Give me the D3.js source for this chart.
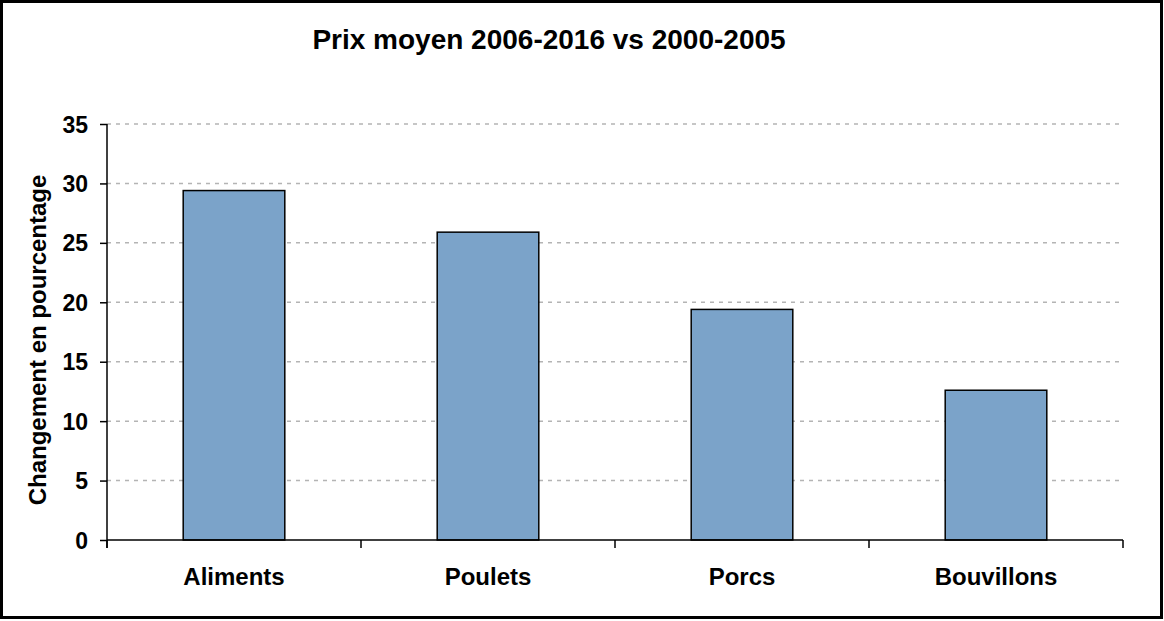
<!DOCTYPE html>
<html>
<head>
<meta charset="utf-8">
<script src="https://cdn.jsdelivr.net/npm/d3@7"></script>
<style>
  body { margin: 0; background: #fff; }
  text { font-family: "Liberation Sans", Arial, sans-serif; font-weight: bold; fill: #000; }
</style>
</head>
<body>
<svg id="chart"></svg>
<script>
// data
var categories = ['Aliments', 'Poulets', 'Porcs', 'Bouvillons'];
var values = [29.4, 25.9, 19.4, 12.6];
var yTicks = [0, 5, 10, 15, 20, 25, 30, 35];

var svgWidth = 1164;
var svgHeight = 621;
var plotLeft = 107, plotRight = 1123, plotTop = 124, plotBottom = 540;

var svg = d3.select('#chart')
    .attr('width', svgWidth)
    .attr('height', svgHeight);

// outer frame
svg.append('rect')
    .attr('x', 1.5).attr('y', 1.5)
    .attr('width', 1160).attr('height', 616)
    .attr('fill', 'none')
    .attr('stroke', '#000')
    .attr('stroke-width', 3);

var x = d3.scaleBand()
    .domain(categories)
    .range([plotLeft, plotRight])
    .paddingInner(0.6)
    .paddingOuter(0.3);

var y = d3.scaleLinear()
    .domain([0, 35])
    .range([plotBottom, plotTop]);

// dotted gridlines
svg.append('g').selectAll('line')
    .data(yTicks.filter(function(d) { return d > 0; }))
    .enter().append('line')
    .attr('x1', plotLeft).attr('x2', plotRight)
    .attr('y1', function(d) { return y(d); })
    .attr('y2', function(d) { return y(d); })
    .attr('stroke', '#b4b4b4')
    .attr('stroke-width', 1.5)
    .attr('stroke-dasharray', '4,5');

// bars
svg.append('g').selectAll('rect')
    .data(values)
    .enter().append('rect')
    .attr('x', function(d, i) { return x(categories[i]); })
    .attr('y', function(d) { return y(d); })
    .attr('width', x.bandwidth())
    .attr('height', function(d) { return y(0) - y(d); })
    .attr('fill', '#7ba3c9')
    .attr('stroke', '#000')
    .attr('stroke-width', 1.5);

// y axis
var yAxis = svg.append('g')
    .attr('transform', 'translate(' + plotLeft + ',0)')
    .call(d3.axisLeft(y).tickValues(yTicks).tickSize(7).tickPadding(12));
yAxis.select('.domain').attr('stroke-width', 1.5).attr('d', 'M0,' + plotTop + 'V' + (plotBottom + 8));
yAxis.selectAll('.tick line').attr('stroke-width', 1.5);
yAxis.selectAll('.tick text')
    .style('font-size', '23px')
    .style('font-family', '"Liberation Sans", Arial, sans-serif')
    .style('font-weight', 'bold')
    .attr('dy', '0.35em');

// x axis, ticks sit on the band boundaries
var xAxis = svg.append('g')
    .attr('transform', 'translate(0,' + plotBottom + ')');
xAxis.append('line')
    .attr('x1', plotLeft).attr('x2', plotRight)
    .attr('stroke', '#000').attr('stroke-width', 1.5);
var step = x.step();
xAxis.selectAll('line.tk')
    .data(d3.range(categories.length + 1))
    .enter().append('line')
    .attr('class', 'tk')
    .attr('x1', function(i) { return plotLeft + i * step; })
    .attr('x2', function(i) { return plotLeft + i * step; })
    .attr('y1', 0).attr('y2', 8)
    .attr('stroke', '#000').attr('stroke-width', 1.5);
xAxis.selectAll('text')
    .data(categories)
    .enter().append('text')
    .attr('x', function(d) { return x(d) + x.bandwidth() / 2; })
    .attr('y', 45)
    .attr('text-anchor', 'middle')
    .style('font-size', '24px')
    .text(function(d) { return d; });

// title
svg.append('text')
    .attr('x', 549).attr('y', 49)
    .attr('text-anchor', 'middle')
    .style('font-size', '28px')
    .text('Prix moyen 2006-2016 vs 2000-2005');

// y label
svg.append('text')
    .attr('transform', 'translate(46,' + 340 + ') rotate(-90)')
    .attr('text-anchor', 'middle')
    .style('font-size', '24px')
    .text('Changement en pourcentage');
</script>
</body>
</html>
